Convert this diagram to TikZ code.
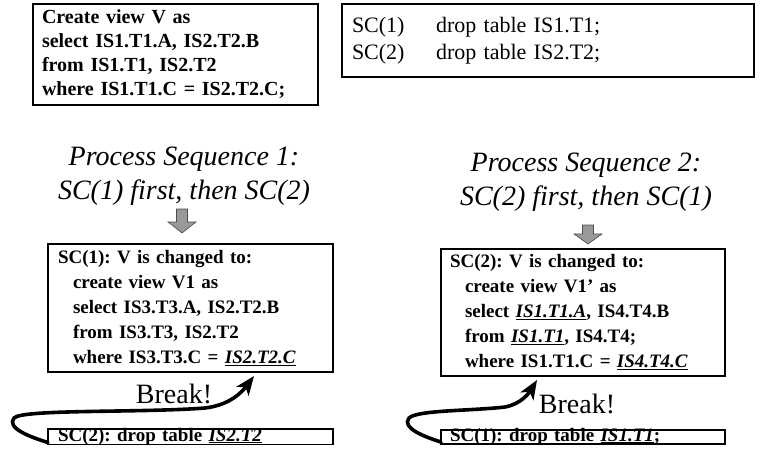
\documentclass[tikz,border=0pt]{standalone}
\usepackage{fontspec}
\setmainfont{Liberation Serif}
\usetikzlibrary{arrows.meta,calc}
\newcommand{\ul}[1]{\underline{\textit{#1}}}
\newcommand{\ind}{\hspace*{15pt}}
\frenchspacing
\begin{document}
\begin{tikzpicture}[x=1pt,y=-1pt,
  box/.style={draw=black, line width=1.2pt, anchor=north west, align=left,
    inner ysep=0pt, outer sep=0pt},
  codetext/.style={font=\fontsize{20}{24}\selectfont\bfseries},
  droptext/.style={font=\fontsize{19}{24}\selectfont\bfseries},
  changetext/.style={font=\fontsize{19}{25}\selectfont\bfseries},
  plaintext/.style={font=\fontsize{22}{27}\selectfont},
  seqtitle/.style={font=\fontsize{28}{34}\selectfont\itshape, align=center},
  breaktext/.style={font=\fontsize{28}{30}\selectfont},
  blockarrow/.style={fill=gray!80!white, draw=black!70, line width=0.6pt, line join=miter},
  bendarrow/.style={draw=black, line width=3.6pt, line cap=round,
    -{Stealth[length=19pt,width=15pt,inset=5pt]}}
]
\useasboundingbox (0,0) rectangle (767,455);

% view definition and schema changes
\node[box, codetext, text width=267pt, minimum height=101pt, inner xsep=9pt] (viewdef) at (33,4)
  {Create view V as\\ select IS1.T1.A, IS2.T2.B\\ from IS1.T1, IS2.T2\\ where IS1.T1.C = IS2.T2.C;};
\node[box, plaintext, text width=392pt, minimum height=73pt, inner xsep=10pt] (changes) at (342,4)
  {\makebox[84pt][l]{SC(1)}drop table IS1.T1;\\ \makebox[84pt][l]{SC(2)}drop table IS2.T2;};

% sequence titles
\node[seqtitle] (seqone) at (184,176) {Process Sequence 1:\\SC(1) first, then SC(2)};
\node[seqtitle] (seqtwo) at (586,182) {Process Sequence 2:\\SC(2) first, then SC(1)};

% down arrows
\draw[blockarrow] (176.5,209) -- ++(11,0) -- ++(0,13) -- ++(8.5,0) -- ++(-14,11) -- ++(-14,-11) -- ++(8.5,0) -- cycle;
\draw[blockarrow] (582.5,225) -- ++(11,0) -- ++(0,9) -- ++(8.5,0) -- ++(-14,10) -- ++(-14,-10) -- ++(8.5,0) -- cycle;

% sequence 1
\node[box, changetext, text width=265pt, minimum height=128pt, inner xsep=10pt] (viewone) at (48,244)
  {SC(1): V is changed to:\\ \ind create view V1 as\\ \ind select IS3.T3.A, IS2.T2.B\\
   \ind from IS3.T3, IS2.T2\\ \ind where IS3.T3.C = \ul{IS2.T2.C}};
\node[box, droptext, text width=265pt, inner xsep=10pt, text height=12pt, text depth=3.5pt] (dropone) at (48,429)
  {SC(2): drop table \ul{IS2.T2}};
\node[breaktext] (breakone) at (174,394) {Break!};
\coordinate (tipone) at (254,376);
\draw[bendarrow] ([yshift=2pt]dropone.south west) .. controls (30,437) and (6,428) .. (14,418)
  .. controls (22,409) and (140,413) .. (205,408) .. controls (230,405) and (242,392) .. (tipone);

% sequence 2
\node[box, changetext, text width=266pt, minimum height=127pt, inner xsep=9pt] (viewtwo) at (441,249)
  {SC(2): V is changed to:\\ \ind create view V1’ as\\ \ind select \ul{IS1.T1.A}, IS4.T4.B\\
   \ind from \ul{IS1.T1}, IS4.T4;\\ \ind where IS1.T1.C = \ul{IS4.T4.C}};
\node[box, droptext, text width=266pt, inner xsep=9pt, text height=11pt, text depth=3pt] (droptwo) at (441,430)
  {SC(1): drop table \ul{IS1.T1};};
\node[breaktext] (breaktwo) at (577,404) {Break!};
\coordinate (tiptwo) at (537,380);
\draw[bendarrow] ([yshift=2pt]droptwo.south west) .. controls (425,437) and (401,428) .. (409,418)
  .. controls (417,410) and (470,411) .. (505,407) .. controls (521,404) and (529,393) .. (tiptwo);
\end{tikzpicture}
\end{document}
